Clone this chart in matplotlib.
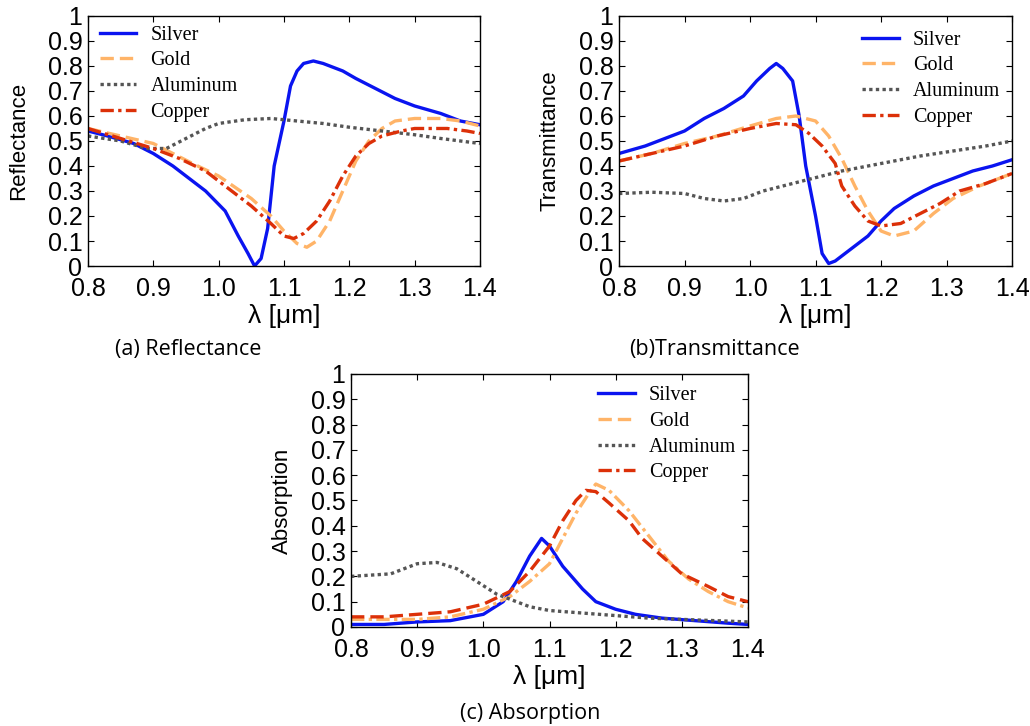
import matplotlib
matplotlib.use("Agg")
import matplotlib.pyplot as plt
from matplotlib.lines import Line2D

# ---- data ----
# (a) Reflectance
ra_ag_x = [0.80, 0.83, 0.87, 0.90, 0.93, 0.96, 0.98, 1.01, 1.03, 1.045, 1.055, 1.065, 1.075, 1.085,
           1.10, 1.11, 1.12, 1.13, 1.145, 1.16, 1.19, 1.21, 1.24, 1.27, 1.30, 1.34, 1.37, 1.40]
ra_ag_y = [0.54, 0.52, 0.49, 0.45, 0.40, 0.34, 0.30, 0.22, 0.12, 0.05, 0.00, 0.03, 0.15, 0.40,
           0.58, 0.72, 0.78, 0.81, 0.82, 0.81, 0.78, 0.75, 0.71, 0.67, 0.64, 0.61, 0.58, 0.565]
ra_au_x = [0.80, 0.85, 0.90, 0.93, 0.96, 1.00, 1.05, 1.08, 1.10, 1.12, 1.135, 1.15, 1.17, 1.19,
           1.21, 1.23, 1.25, 1.27, 1.30, 1.34, 1.37, 1.40]
ra_au_y = [0.55, 0.52, 0.49, 0.45, 0.41, 0.36, 0.27, 0.20, 0.14, 0.09, 0.075, 0.10, 0.18, 0.30,
           0.42, 0.50, 0.55, 0.58, 0.59, 0.59, 0.58, 0.56]
ra_al_x = [0.80, 0.85, 0.89, 0.92, 0.95, 0.98, 1.00, 1.04, 1.08, 1.12, 1.16, 1.20, 1.25, 1.30,
           1.34, 1.37, 1.40]
ra_al_y = [0.52, 0.50, 0.47, 0.47, 0.51, 0.55, 0.57, 0.585, 0.59, 0.58, 0.57, 0.555, 0.54, 0.525,
           0.51, 0.50, 0.49]
ra_cu_x = [0.80, 0.85, 0.90, 0.94, 0.98, 1.01, 1.05, 1.08, 1.10, 1.115, 1.13, 1.15, 1.17, 1.19,
           1.21, 1.23, 1.25, 1.28, 1.30, 1.35, 1.38, 1.40]
ra_cu_y = [0.55, 0.51, 0.47, 0.43, 0.38, 0.32, 0.24, 0.17, 0.12, 0.11, 0.13, 0.18, 0.26, 0.36,
           0.44, 0.49, 0.52, 0.54, 0.55, 0.55, 0.54, 0.53]

# (b) Transmittance
tb_ag_x = [0.80, 0.84, 0.87, 0.90, 0.93, 0.96, 0.99, 1.01, 1.03, 1.04, 1.05, 1.065, 1.075, 1.085,
           1.10, 1.11, 1.12, 1.13, 1.15, 1.18, 1.20, 1.22, 1.25, 1.28, 1.31, 1.34, 1.37, 1.40]
tb_ag_y = [0.45, 0.48, 0.51, 0.54, 0.59, 0.63, 0.68, 0.74, 0.79, 0.81, 0.79, 0.74, 0.60, 0.40,
           0.20, 0.05, 0.01, 0.02, 0.06, 0.12, 0.18, 0.23, 0.28, 0.32, 0.35, 0.38, 0.40, 0.425]
tb_au_x = [0.80, 0.85, 0.90, 0.95, 1.00, 1.04, 1.07, 1.10, 1.12, 1.14, 1.16, 1.18, 1.20, 1.22,
           1.25, 1.28, 1.31, 1.35, 1.40]
tb_au_y = [0.42, 0.45, 0.49, 0.52, 0.56, 0.59, 0.60, 0.58, 0.52, 0.43, 0.32, 0.22, 0.14, 0.12,
           0.14, 0.21, 0.27, 0.32, 0.37]
tb_al_x = [0.80, 0.85, 0.90, 0.93, 0.96, 0.99, 1.02, 1.05, 1.08, 1.11, 1.14, 1.18, 1.22, 1.26,
           1.31, 1.36, 1.40]
tb_al_y = [0.29, 0.295, 0.29, 0.27, 0.26, 0.27, 0.30, 0.32, 0.34, 0.36, 0.38, 0.40, 0.42, 0.44,
           0.46, 0.48, 0.50]
tb_cu_x = [0.80, 0.85, 0.90, 0.95, 1.00, 1.04, 1.07, 1.09, 1.11, 1.13, 1.14, 1.16, 1.18, 1.20,
           1.23, 1.26, 1.29, 1.32, 1.36, 1.40]
tb_cu_y = [0.42, 0.45, 0.48, 0.52, 0.55, 0.57, 0.565, 0.53, 0.48, 0.41, 0.32, 0.24, 0.18, 0.16,
           0.17, 0.21, 0.25, 0.30, 0.33, 0.37]

# (c) Absorption
ac_ag_x = [0.80, 0.85, 0.90, 0.95, 1.00, 1.03, 1.05, 1.07, 1.088, 1.10, 1.12, 1.15, 1.17, 1.20,
           1.23, 1.27, 1.32, 1.37, 1.40]
ac_ag_y = [0.01, 0.01, 0.02, 0.025, 0.05, 0.10, 0.18, 0.28, 0.35, 0.32, 0.24, 0.15, 0.10, 0.07,
           0.05, 0.035, 0.025, 0.015, 0.01]
ac_au_x = [0.80, 0.90, 0.95, 1.00, 1.04, 1.07, 1.10, 1.12, 1.14, 1.16, 1.17, 1.19, 1.22, 1.25,
           1.28, 1.31, 1.34, 1.37, 1.40]
ac_au_y = [0.03, 0.03, 0.04, 0.07, 0.12, 0.18, 0.25, 0.35, 0.45, 0.53, 0.565, 0.54, 0.46, 0.36,
           0.26, 0.19, 0.14, 0.10, 0.075]
ac_al_x = [0.80, 0.86, 0.90, 0.93, 0.96, 0.99, 1.02, 1.05, 1.07, 1.10, 1.15, 1.20, 1.25, 1.30,
           1.35, 1.40]
ac_al_y = [0.20, 0.21, 0.25, 0.255, 0.23, 0.18, 0.13, 0.10, 0.08, 0.065, 0.055, 0.045, 0.035,
           0.03, 0.025, 0.02]
ac_cu_x = [0.80, 0.85, 0.90, 0.95, 1.00, 1.04, 1.07, 1.10, 1.12, 1.14, 1.155, 1.17, 1.19, 1.22,
           1.24, 1.27, 1.30, 1.34, 1.37, 1.40]
ac_cu_y = [0.04, 0.04, 0.05, 0.06, 0.09, 0.14, 0.22, 0.32, 0.42, 0.50, 0.54, 0.535, 0.49, 0.42,
           0.35, 0.28, 0.21, 0.16, 0.12, 0.10]

metals = ["Silver", "Gold", "Aluminum", "Copper"]
x_ticks = [0.8, 0.9, 1.0, 1.1, 1.2, 1.3, 1.4]
x_tick_labels = ["0.8", "0.9", "1.0", "1.1", "1.2", "1.3", "1.4"]
y_ticks = [0, 0.1, 0.2, 0.3, 0.4, 0.5, 0.6, 0.7, 0.8, 0.9, 1]
y_tick_labels = ["0", "0.1", "0.2", "0.3", "0.4", "0.5", "0.6", "0.7", "0.8", "0.9", "1"]

# ---- styles ----
c_ag = "#0a14f0"
c_au = "#ffb468"
c_al = "#555555"
c_cu = "#dc3008"
lw = 2.4
st_ag = dict(color=c_ag, lw=lw, ls="-")
st_au = dict(color=c_au, lw=lw, ls=(0, (4, 1.8)))
st_al = dict(color=c_al, lw=lw, ls=(0, (1, 1)))
st_cu = dict(color=c_cu, lw=lw, ls=(0, (4, 1.3, 1, 1.3)))

tick_font = "Liberation Sans"
leg_font = "Liberation Serif"
cap_font = "Open Sans"

fig = plt.figure(figsize=(10.30, 7.26), dpi=100)


def setup(ax, ylabel):
    ax.set_xlim(0.8, 1.4)
    ax.set_ylim(0, 1)
    ax.set_xticks(x_ticks)
    ax.set_xticklabels(x_tick_labels, family=tick_font, fontsize=18)
    ax.set_yticks(y_ticks)
    ax.set_yticklabels(y_tick_labels, family=tick_font, fontsize=18)
    ax.tick_params(direction="in", top=True, right=True, length=4, width=0.8)
    ax.tick_params(axis="x", pad=8)
    ax.tick_params(axis="y", pad=4)
    for s in ax.spines.values():
        s.set_linewidth(1.0)
    ax.set_xlabel("λ [μm]", family=tick_font, fontsize=19, labelpad=2)
    ax.set_ylabel(ylabel, family=tick_font, fontsize=16, labelpad=13)


def add_legend(ax, handles, loc, anchor):
    ax.legend(handles, metals, loc=loc, bbox_to_anchor=anchor, frameon=False,
              prop={"family": leg_font, "size": 14.5}, handlelength=1.8,
              handletextpad=0.7, labelspacing=0.33, borderaxespad=0.2)


# (a)
ax_a = fig.add_axes([0.0854, 0.6336, 0.3806, 0.3444])
h1, = ax_a.plot(ra_ag_x, ra_ag_y, **st_ag)
h2, = ax_a.plot(ra_au_x, ra_au_y, **st_au)
h3, = ax_a.plot(ra_al_x, ra_al_y, **st_al)
h4, = ax_a.plot(ra_cu_x, ra_cu_y, **st_cu)
setup(ax_a, "Reflectance")
add_legend(ax_a, [h1, h2, h3, h4], "upper left", (0.0, 1.01))

# (b)
ax_b = fig.add_axes([0.601, 0.6336, 0.3816, 0.3444])
h1, = ax_b.plot(tb_ag_x, tb_ag_y, **st_ag)
h2, = ax_b.plot(tb_au_x, tb_au_y, **st_au)
h3, = ax_b.plot(tb_al_x, tb_al_y, **st_al)
h4, = ax_b.plot(tb_cu_x, tb_cu_y, **st_cu)
setup(ax_b, "Transmittance")
add_legend(ax_b, [h1, h2, h3, h4], "upper right", (1.0, 0.99))

# (c) - in the reference the curves swap dash styles vs. the legend
ax_c = fig.add_axes([0.3408, 0.1364, 0.3854, 0.3485])
ax_c.plot(ac_ag_x, ac_ag_y, **st_ag)
ax_c.plot(ac_au_x, ac_au_y, color=c_au, lw=lw, ls=(0, (4, 1.3, 1, 1.3)))
ax_c.plot(ac_al_x, ac_al_y, **st_al)
ax_c.plot(ac_cu_x, ac_cu_y, color=c_cu, lw=lw, ls=(0, (4, 1.8)))
setup(ax_c, "Absorption")
leg_handles = [Line2D([], [], **st_ag), Line2D([], [], **st_au),
               Line2D([], [], **st_al), Line2D([], [], **st_cu)]
add_legend(ax_c, leg_handles, "upper right", (1.0, 1.0))

# captions
fig.text(188 / 1030, 1 - 350 / 726, "(a) Reflectance", family=cap_font, fontsize=15.5,
         ha="center", va="center")
fig.text(714 / 1030, 1 - 350 / 726, "(b)Transmittance", family=cap_font, fontsize=15.5,
         ha="center", va="center")
fig.text(530 / 1030, 1 - 713 / 726, "(c) Absorption", family=cap_font, fontsize=15.5,
         ha="center", va="center")

fig.savefig("out.png", dpi=100)
